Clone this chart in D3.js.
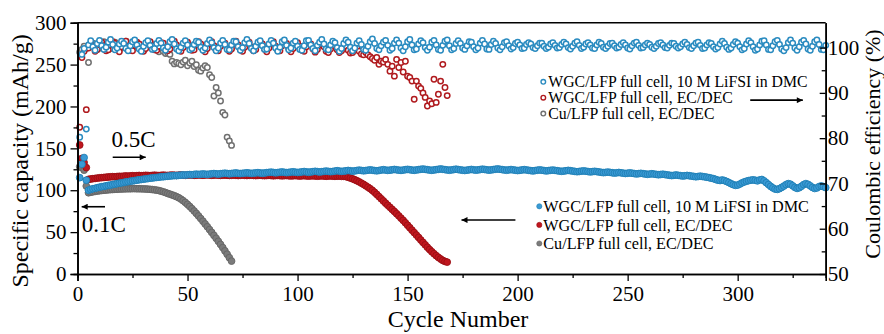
<!DOCTYPE html>
<html>
<head>
<meta charset="utf-8">
<script src="https://cdn.jsdelivr.net/npm/d3@7"></script>
<style>
  body { margin: 0; background: #fff; }
  svg, svg text { font-family: 'Liberation Serif', 'Times New Roman', Times, serif; }
</style>
</head>
<body>
<svg id="chart"></svg>
<script>
const width = 884, height = 334;
const plot = { left: 77.5, right: 825.7, top: 22.7, bottom: 274 };

// Discharge capacity (mAh/g), one value per cycle starting at cycle 1
const capWgcLifsi = [
  115,131,139,112,100,101,101.8,102.3,103,103.6,
  104.2,104.6,105.3,105.8,106.2,106.9,107.3,107.8,108.4,108.8,
  109.3,109.9,110.2,110.8,111.1,111.6,112,112.5,112.8,113.2,
  113.6,113.9,114.4,114.6,115,115.3,115.6,116,116.1,116.5,
  116.7,117,117.2,117.5,117.4,117.8,118,118.3,118.1,118.4,
  118.7,118.5,118.9,119.2,118.9,119.1,119.4,119.2,118.9,119.3,
  119.6,119.9,119.6,119.3,119.7,120,120.3,120,119.7,120,
  120.3,120.6,120.2,119.9,120.2,120.5,120.8,120.5,120.1,120.4,
  120.7,121,120.6,120.3,120.6,121,121.3,121.6,121.2,120.8,
  121.1,121.5,121.8,121.4,121,121.3,121.7,122,121.6,121.2,
  121.5,121.9,122.3,121.9,121.5,121.8,122.2,122.6,122.2,121.8,
  122.1,122.5,122.9,122.5,122.1,122.4,122.9,123.3,122.9,122.5,
  122.8,123.2,123.6,123.2,122.8,123.1,123.6,124,123.6,123.2,
  123.5,123.9,124.3,123.9,123.5,123.2,123.6,124.1,124.5,124.1,
  123.7,124,124.4,124.8,124.4,124,123.7,124.1,124.5,124.9,
  124.5,124.1,123.8,124.2,124.6,125,125.3,124.9,124.5,124.1,
  123.8,124.2,124.6,125,125.4,125,124.6,124.2,123.9,124.3,
  124.7,125.1,124.7,124.3,123.9,123.6,124,124.4,124.8,124.4,
  124,124.3,124.7,125.1,124.8,124.4,124,124.3,124.7,125.1,
  125.4,125,124.6,124.2,123.9,124.3,124.7,124.3,123.9,123.5,
  123.8,124.2,124.6,124.2,123.8,123.4,123.1,123.5,123.9,124.3,
  123.9,123.5,123.1,123.4,123.8,124.1,123.7,123.3,122.9,122.6,
  122.9,123.3,123.7,123.3,122.9,122.5,122.1,122.4,122.8,123.1,
  122.7,122.3,121.9,122.2,122.6,122.2,121.8,121.4,121,121.3,
  121.7,121.3,120.9,120.5,120.8,121.2,120.8,120.4,120,120.3,
  120.7,120.3,119.9,119.5,119.8,120.2,119.8,119.4,119,119.3,
  119.7,119.3,118.9,118.5,118.8,119.1,118.7,118.3,117.9,117.5,
  117.8,118.2,117.8,117.4,117,117.3,117.7,117.3,116.9,116.5,
  116.1,116.4,116.8,116.4,116,115.5,115,114.4,113.8,112.9,
  112,111.6,112.2,111.5,110.4,109.2,107.8,106.6,105.8,106.2,
  107.4,108.8,109.9,110.8,111.5,112,112.4,111.9,111.2,112.3,
  112.8,111.2,109,106.8,104.6,102.8,101.4,101,101.9,103.4,
  105,106.8,107.9,107.2,105.3,103.4,102.2,103,104.8,106.8,
  107.9,107,105.2,103.3,102.1,102.8,104.4,105.1,104.2,103.1
];
const capWgcEc = [
  154,138,133,127,113,113.4,113.8,114.1,114.5,114.8,
  115,115.3,115.5,115.8,116,116.2,116.1,116.4,116.6,116.5,
  116.8,117,116.8,117.1,117.3,117.1,117.4,117.6,117.3,117.5,
  117.8,117.6,117.4,117.7,117.9,117.7,117.5,117.8,118,117.8,
  117.6,117.9,118.1,117.9,117.7,118,118.2,118,117.8,118.1,
  118.3,118.1,117.8,118,118.3,118.1,117.9,118.2,118.4,118.1,
  117.9,118.1,118.3,118,117.8,118,118.2,117.9,117.7,117.9,
  118.1,117.8,117.6,117.9,118.1,117.8,117.6,117.8,118,117.7,
  117.5,117.7,117.9,117.6,117.4,117.6,117.8,117.5,117.3,117.5,
  117.7,117.4,117.2,117.4,117.6,117.3,117.1,117.3,117.5,117.2,
  117,117.2,117.4,117.1,116.9,117.1,117.3,117,116.8,117,
  117.2,116.9,116.7,116.9,117.1,116.8,116.6,116.8,116.9,116.6,
  116.6,116.2,115.5,114.6,113.6,112.5,111.3,110,108.5,107,
  105.3,103.6,101.8,99.8,97.5,95,92.4,89.8,87.2,84.6,
  82.1,79.6,77.1,74.6,72,69.4,66.7,64,61.1,58.2,
  55.3,52.3,49.4,46.5,43.6,40.6,37.7,34.8,31.9,29.2,
  26.6,24.2,21.9,19.8,17.9,16.2,15,14.2
];
const capCuEc = [
  128,127,124,105,97,97.6,98.1,98.6,99,99.4,
  99.7,100,100.2,100.5,100.7,100.9,101.1,101.2,101.4,101.5,
  101.6,101.7,101.8,101.8,101.9,101.9,101.8,101.8,101.7,101.6,
  101.5,101.3,101.1,100.8,100.5,100.1,99.6,98.9,98.1,97.2,
  96.2,95.3,94.4,93.4,92.3,91,89.4,87.5,85.4,83.1,
  80.6,78,75.2,72.3,69.3,66.2,63,59.7,56.4,53,
  49.6,46.1,42.6,39,35.3,31.5,27.6,23.6,19.5,15.4
];

// Coulombic efficiency (%), one value per cycle starting at cycle 1
const ceWgcLifsi = [
  80.2,98.5,99.8,82,100.6,101.5,100.2,99.4,100.9,101.6,
  100.4,99.6,100.1,101.2,101.8,100.7,99.5,99.9,100.8,101.4,
  100.9,99.8,99.3,100.4,101.3,101.7,100.6,99.7,99.2,100.3,
  101.1,101.5,100.5,99.6,99.8,100.9,101.6,101,99.9,99.4,
  100.2,101.3,101.8,100.8,99.7,99.3,100.1,101,101.5,100.6,
  99.5,99.8,100.7,101.4,101.2,100.1,99.4,99.9,100.9,101.7,
  101.1,100,99.3,99.9,101,101.6,100.7,99.6,99.5,100.6,
  101.4,101.3,100.2,99.4,100,101.1,101.8,100.9,99.8,99.3,
  100.3,101.2,101.5,100.4,99.6,99.7,100.8,101.6,101,99.9,
  99.2,100.1,101.3,101.7,100.5,99.5,99.9,101,101.4,100.3,
  99.6,99.4,100.4,101.5,101.6,100.6,99.8,99.3,100.5,101.2,
  101.8,100.8,99.7,99.5,100.6,101.4,101.1,100,99.2,99.8,
  100.9,101.7,101.2,100.1,99.3,99.9,101,101.5,100.7,99.6,
  99.4,100.3,101.3,101.9,100.9,99.8,99.5,100.4,101.2,101.6,
  100.5,99.4,99.8,101,101.7,101,99.9,99.3,100.2,101.3,
  101.8,100.6,99.5,99.7,100.8,101.5,101.1,100,99.4,100.1,
  101.2,101.6,100.6,99.6,99.4,100.5,101.4,101.7,100.4,99.5,
  99.8,100.9,101.5,100.9,99.9,99.6,100.4,101.3,101.2,100.2,
  99.5,99.9,101,101.6,100.8,99.7,99.6,100.7,101.4,100.9,
  99.9,99.5,100.2,101.1,101.3,100.4,99.7,100,100.9,101.2,
  100.6,99.8,99.9,100.7,101.1,100.8,100,99.8,100.4,101,
  101,100.3,99.8,100.1,100.8,101.1,100.5,99.9,100,100.7,
  101.2,100.8,100,99.7,100.3,101,101.3,100.5,99.8,100.1,
  100.8,101.1,100.6,99.9,99.8,100.6,101.2,100.9,100.1,99.8,
  100.3,100.9,101,100.4,99.9,100.1,100.7,101.1,100.6,99.9,
  99.7,100.4,101,101.2,100.5,99.9,100,100.6,101,100.7,
  100.1,99.8,100.3,100.9,101.1,100.6,100,99.9,100.5,101,
  100.9,100.3,99.9,100.2,100.8,101.2,100.7,100,99.8,100.4,
  101,101.2,100.5,99.8,99.9,100.6,101.1,100.9,100.2,99.7,
  100,100.8,101.4,100.9,100.1,99.6,99.9,100.7,101.3,101,
  100.2,99.5,99.8,100.8,101.5,101.1,100.2,99.4,99.7,100.6,
  101.4,101.5,100.6,99.6,99.5,100.4,101.3,101.6,100.7,99.7,
  99.3,100,101.1,101.7,101,99.9,99.4,100.2,101.2,101.6,
  100.8,99.7,99.4,100.3,101.3,101.7,100.7,99.6,99.5,100.5
];
const ceWgcEc = [
  82.4,97.8,99.2,86.3,99.9,100.8,100.3,99.2,99.6,100.7,
  101.2,100.4,99.3,99.5,100.6,101.3,100.9,99.6,99.1,100.2,
  101,101.4,100.2,99.4,99.3,100.5,101.2,100.8,99.7,99.2,
  99.8,100.9,101.3,100.4,99.5,99.4,100.3,101.1,101,99.9,
  99.3,99.7,100.8,101.4,100.6,99.6,99.2,100,101,101.2,
  100.2,99.4,99.5,100.6,101.3,100.8,99.7,99.1,99.8,100.9,
  101.3,100.4,99.4,99.3,100.3,101.1,101,99.9,99.2,99.7,
  100.8,101.4,100.6,99.5,99.2,100.1,101,101.2,100.1,99.3,
  99.6,100.7,101.3,100.8,99.7,99.1,99.9,100.9,101.3,100.3,
  99.4,99.3,100.4,101.2,100.9,99.8,99.1,99.8,100.8,101.1,
  100.3,99.4,99.2,100.2,101,100.8,99.7,99,99.6,100.6,
  100.9,100.2,99.2,98.9,99.7,100.6,100.4,99.5,98.9,99.3,
  100.2,100.3,99.4,98.8,98.9,99.8,100,99.2,98.6,98.4,
  98.9,98.4,98,97.6,97.2,97.8,96.3,97,96.8,97.4,
  96.3,94.8,95.9,93.7,97.4,95.6,96.7,94.6,97,93.7,
  93.4,92.6,88.6,92.6,91.5,91,90,89,87.1,88.2,
  87.6,93,87.9,89.7,92.6,96.3,91.2,89.4
];
const ceCuEc = [
  99,99.6,100.3,99.8,96.7,100.2,101,100.5,99.6,99.9,
  100.8,101.3,100.4,99.5,99.8,100.9,101.2,100.1,99.4,100,
  101,101.4,100.3,99.6,99.9,100.8,101.1,100.2,99.7,99.4,
  100,100.9,101.2,100.6,99.8,99.5,99.1,99.8,99.2,98.7,
  98.8,98.5,97,96.4,96.7,96.5,96.2,96.8,97.2,96,
  96.6,97,95.8,96.2,95,94.8,95.5,96,95.6,94,
  93.4,89.3,91.2,90,88.2,85.7,85.1,80.2,79.4,78.4
];

const seriesNames = [
  'WGC/LFP full cell, 10 M LiFSI in DMC',
  'WGC/LFP full cell, EC/DEC',
  'Cu/LFP full cell, EC/DEC'
];
const fillColors = ['#3a9ad5', '#c0161e', '#7b7b7b'];
const edgeColors = ['#1f7fb4', '#9a0e14', '#646464'];
const openColors = ['#2a8bc0', '#b01a1e', '#707070'];

const cycleTicks = [0, 50, 100, 150, 200, 250, 300];
const cycleMinor = [25, 75, 125, 175, 225, 275, 325];
const capTicks = [0, 50, 100, 150, 200, 250, 300];
const capMinor = [25, 75, 125, 175, 225, 275];
const ceTicks = [50, 60, 70, 80, 90, 100];
const ceMinor = [55, 65, 75, 85, 95];

const serif = "'Liberation Serif', 'Times New Roman', Times, serif";

const svg = d3.select('#chart')
  .attr('width', width)
  .attr('height', height)
  .attr('font-family', serif);

const x = d3.scaleLinear().domain([0, 340]).range([plot.left, plot.right]);
const yCap = d3.scaleLinear().domain([0, 300]).range([plot.bottom, plot.top]);
const yCe = d3.scaleLinear().domain([50, 105.5]).range([plot.bottom, plot.top]);

// Arrowhead
svg.append('defs').append('marker')
  .attr('id', 'arrowhead')
  .attr('viewBox', '0 -5 10 10')
  .attr('refX', 10)
  .attr('orient', 'auto')
  .attr('markerUnits', 'userSpaceOnUse')
  .attr('markerWidth', 9)
  .attr('markerHeight', 6)
  .append('path')
  .attr('d', 'M0,-5 L10,0 L0,5 Z')
  .attr('fill', '#000');

// Coulombic efficiency, open circles (gray, red, then blue on top)
const ceSeries = [ceCuEc, ceWgcEc, ceWgcLifsi];
[2, 1, 0].forEach((k, j) => {
  svg.append('g')
    .selectAll('circle')
    .data(ceSeries[j])
    .join('circle')
    .attr('cx', (d, i) => x(i + 1))
    .attr('cy', d => yCe(d))
    .attr('r', 2.7)
    .attr('fill', '#fff')
    .attr('stroke', openColors[k])
    .attr('stroke-width', 1.5);
});

// Capacity, filled circles
const capSeries = [capCuEc, capWgcEc, capWgcLifsi];
[2, 1, 0].forEach((k, j) => {
  svg.append('g')
    .selectAll('circle')
    .data(capSeries[j])
    .join('circle')
    .attr('cx', (d, i) => x(i + 1))
    .attr('cy', d => yCap(d))
    .attr('r', 3.4)
    .attr('fill', fillColors[k])
    .attr('stroke', edgeColors[k])
    .attr('stroke-width', 0.9);
});

// Axes
const axisStyle = g => {
  g.attr('font-family', serif).attr('font-size', 21);
  g.selectAll('text').attr('font-family', serif).attr('fill', '#000');
  g.selectAll('.domain').attr('stroke', '#000').attr('stroke-width', 1.6);
  g.selectAll('.tick line').attr('stroke', '#000').attr('stroke-width', 1.3);
};

svg.append('g')
  .attr('transform', `translate(0,${plot.bottom})`)
  .call(d3.axisBottom(x).tickValues(cycleTicks).tickSize(7).tickPadding(5))
  .call(axisStyle);
svg.append('g')
  .attr('transform', `translate(0,${plot.bottom})`)
  .call(d3.axisBottom(x).tickValues(cycleMinor).tickSize(4).tickFormat(''))
  .call(axisStyle);

svg.append('g')
  .attr('transform', `translate(${plot.left},0)`)
  .call(d3.axisLeft(yCap).tickValues(capTicks).tickSize(7).tickPadding(4))
  .call(axisStyle);
svg.append('g')
  .attr('transform', `translate(${plot.left},0)`)
  .call(d3.axisLeft(yCap).tickValues(capMinor).tickSize(4).tickFormat(''))
  .call(axisStyle);

svg.append('g')
  .attr('transform', `translate(${plot.right},0)`)
  .call(d3.axisRight(yCe).tickValues(ceTicks).tickSizeInner(-6).tickSizeOuter(0).tickPadding(2))
  .call(axisStyle);
svg.append('g')
  .attr('transform', `translate(${plot.right},0)`)
  .call(d3.axisRight(yCe).tickValues(ceMinor).tickSizeInner(-4).tickSizeOuter(0).tickFormat(''))
  .call(axisStyle);

// Top frame line
svg.append('line')
  .attr('x1', plot.left).attr('x2', plot.right)
  .attr('y1', plot.top).attr('y2', plot.top)
  .attr('stroke', '#000').attr('stroke-width', 1.6);

// Axis titles
svg.append('text')
  .attr('transform', `translate(28,161) rotate(-90)`)
  .attr('text-anchor', 'middle')
  .attr('font-size', 24)
  .text('Specific capacity (mAh/g)');
svg.append('text')
  .attr('transform', `translate(880,144) rotate(-90)`)
  .attr('text-anchor', 'middle')
  .attr('font-size', 22)
  .text('Coulombic efficiency (%)');
svg.append('text')
  .attr('x', 458).attr('y', 327)
  .attr('text-anchor', 'middle')
  .attr('font-size', 24)
  .text('Cycle Number');

// Rate annotations
const arrow = (x1, y1, x2, y2) => svg.append('line')
  .attr('x1', x1).attr('y1', y1).attr('x2', x2).attr('y2', y2)
  .attr('stroke', '#000').attr('stroke-width', 1.6)
  .attr('marker-end', 'url(#arrowhead)');

svg.append('text')
  .attr('x', x(15.5)).attr('y', yCap(152))
  .attr('font-size', 23)
  .text('0.5C');
arrow(x(16), yCap(139.3), x(31), yCap(139.3));

svg.append('text')
  .attr('x', x(1.9)).attr('y', yCap(50.5))
  .attr('font-size', 23)
  .text('0.1C');
arrow(x(12.5), yCap(80.3), x(1.9), yCap(80.3));

// Arrows pointing from the legends to their axes
arrow(x(199), yCap(64.4), x(174.5), yCap(64.4));
arrow(x(305.7), yCe(88.4), x(329.6), yCe(88.4));

// Legend: Coulombic efficiency (open markers)
const ceLegend = svg.append('g').attr('transform', 'translate(543.3,0)');
seriesNames.forEach((name, k) => {
  const cy = 81.8 + k * 15.9;
  ceLegend.append('circle')
    .attr('cx', 0).attr('cy', cy).attr('r', 2.3)
    .attr('fill', '#fff').attr('stroke', openColors[k]).attr('stroke-width', 1.4);
  ceLegend.append('text')
    .attr('x', 5).attr('y', cy + 5.3)
    .attr('font-size', 15.8)
    .text(name);
});

// Legend: capacity (filled markers)
const capLegend = svg.append('g').attr('transform', 'translate(539.3,0)');
seriesNames.forEach((name, k) => {
  const cy = 206.3 + k * 18.6;
  capLegend.append('circle')
    .attr('cx', 0).attr('cy', cy).attr('r', 2.6)
    .attr('fill', fillColors[k]).attr('stroke', edgeColors[k]).attr('stroke-width', 0.6);
  capLegend.append('text')
    .attr('x', 4).attr('y', cy + 5.6)
    .attr('font-size', 16.2)
    .text(name);
});
</script>
</body>
</html>
